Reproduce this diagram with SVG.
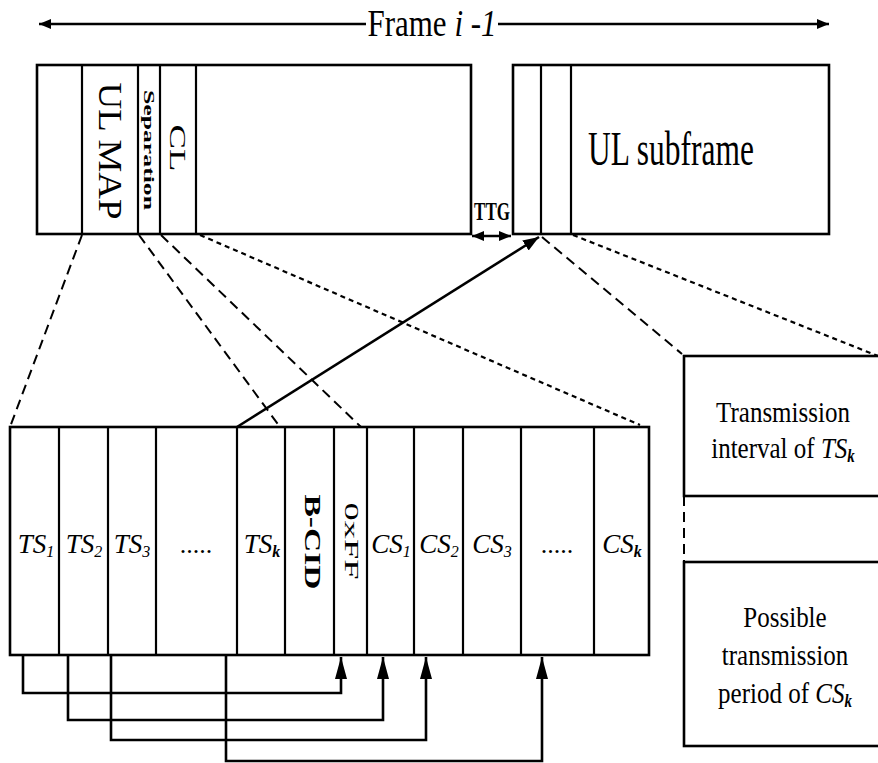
<svg xmlns="http://www.w3.org/2000/svg" width="878" height="763" viewBox="0 0 878 763">
<style>
.box{fill:#fff;stroke:#000;stroke-width:2.6}
.dv{stroke:#000;stroke-width:2.2}
.t{font-family:"Liberation Serif","Times New Roman",serif;fill:#000}
.it{font-style:italic}
.ln{fill:none;stroke:#000;stroke-width:2.6}
.dl{fill:none;stroke:#000;stroke-width:2;stroke-dasharray:10 6}
.ds{fill:none;stroke:#000;stroke-width:2.2;stroke-dasharray:5 4}
</style>
<defs>
<marker id="ah" markerUnits="userSpaceOnUse" markerWidth="24" markerHeight="14" refX="22" refY="6" orient="auto"><path d="M0,0 L22,6 L0,12 z" fill="#000"/></marker>
<marker id="am" markerUnits="userSpaceOnUse" markerWidth="18" markerHeight="14" refX="16" refY="6" orient="auto"><path d="M0,0 L16,6 L0,12 z" fill="#000"/></marker>
<marker id="as" markerUnits="userSpaceOnUse" markerWidth="14" markerHeight="12" refX="12" refY="5" orient="auto-start-reverse"><path d="M0,0 L12,5 L0,10 z" fill="#000"/></marker>
</defs>

<g id="frame-label">
<line class="ln" x1="366" y1="24" x2="39" y2="24" marker-end="url(#as)"/>
<line class="ln" x1="498" y1="24" x2="829" y2="24" marker-end="url(#as)"/>
<text class="t" transform="translate(432,36) scale(1,1.2)" text-anchor="middle" font-size="31">Frame <tspan class="it">i -1</tspan></text>
</g>

<g id="dl-subframe">
<rect class="box" x="37" y="65" width="434" height="169"/>
<line class="dv" x1="82" y1="65" x2="82" y2="234"/>
<line class="dv" x1="138" y1="65" x2="138" y2="234"/>
<line class="dv" x1="160" y1="65" x2="160" y2="234"/>
<line class="dv" x1="196" y1="65" x2="196" y2="234"/>
<text class="t" transform="translate(110,151) rotate(90)" x="0" y="11" text-anchor="middle" font-size="33" textLength="137" lengthAdjust="spacingAndGlyphs">UL MAP</text>
<text class="t" transform="translate(149,150) rotate(90)" x="0" y="5" text-anchor="middle" font-size="15" font-weight="bold" textLength="120" lengthAdjust="spacingAndGlyphs">Separation</text>
<text class="t" transform="translate(178,148) rotate(90)" x="0" y="8" text-anchor="middle" font-size="24" textLength="47" lengthAdjust="spacingAndGlyphs">CL</text>
</g>

<g id="ttg">
<text class="t" transform="translate(492,220) scale(1,1.5)" text-anchor="middle" font-size="17" font-weight="bold">TTG</text>
<line class="ln" x1="472" y1="236" x2="511" y2="236" marker-start="url(#as)" marker-end="url(#as)"/>
</g>

<g id="ul-subframe">
<rect class="box" x="513" y="65" width="316" height="169"/>
<line class="dv" x1="541" y1="65" x2="541" y2="234"/>
<line class="dv" x1="571" y1="65" x2="571" y2="234"/>
<text class="t" transform="translate(588,165) scale(1,1.55)" font-size="31.5">UL subframe</text>
</g>

<g id="slot-row">
<rect class="box" x="10" y="427" width="639" height="228"/>
<line class="dv" x1="59" y1="427" x2="59" y2="655"/>
<line class="dv" x1="108" y1="427" x2="108" y2="655"/>
<line class="dv" x1="156" y1="427" x2="156" y2="655"/>
<line class="dv" x1="237" y1="427" x2="237" y2="655"/>
<line class="dv" x1="285" y1="427" x2="285" y2="655"/>
<line class="dv" x1="334" y1="427" x2="334" y2="655"/>
<line class="dv" x1="367" y1="427" x2="367" y2="655"/>
<line class="dv" x1="414" y1="427" x2="414" y2="655"/>
<line class="dv" x1="463" y1="427" x2="463" y2="655"/>
<line class="dv" x1="521" y1="427" x2="521" y2="655"/>
<line class="dv" x1="594" y1="427" x2="594" y2="655"/>
<g class="t it" font-size="27" text-anchor="middle">
<text x="36" y="553">TS<tspan font-size="16" dy="4">1</tspan></text>
<text x="84" y="553">TS<tspan font-size="16" dy="4">2</tspan></text>
<text x="132" y="553">TS<tspan font-size="16" dy="4">3</tspan></text>
<text x="262" y="553">TS<tspan font-size="16" dy="4" font-weight="bold">k</tspan></text>
<text x="391" y="553">CS<tspan font-size="16" dy="4">1</tspan></text>
<text x="439" y="553">CS<tspan font-size="16" dy="4">2</tspan></text>
<text x="492" y="553">CS<tspan font-size="16" dy="4">3</tspan></text>
<text x="622" y="553">CS<tspan font-size="16" dy="4" font-weight="bold">k</tspan></text>
</g>
<text class="t" x="196" y="553" text-anchor="middle" font-size="26">.....</text>
<text class="t" x="557" y="553" text-anchor="middle" font-size="26">.....</text>
<text class="t" transform="translate(313,542) rotate(90)" x="0" y="8" text-anchor="middle" font-size="24" font-weight="bold" textLength="95" lengthAdjust="spacingAndGlyphs">B-CID</text>
<text class="t" transform="translate(351,541) rotate(90)" x="0" y="6" text-anchor="middle" font-size="18" textLength="77" lengthAdjust="spacingAndGlyphs">0xFF</text>
</g>

<g id="tx-interval">
<rect class="box" x="684" y="356" width="200" height="140"/>
<text class="t" transform="translate(783,422) scale(1,1.2)" text-anchor="middle" font-size="25">Transmission</text>
<text class="t" transform="translate(783,458) scale(1,1.2)" text-anchor="middle" font-size="25">interval of <tspan class="it">TS</tspan><tspan class="it" font-weight="bold" font-size="15" dy="3">k</tspan></text>
</g>

<g id="tx-period">
<rect class="box" x="684" y="562" width="200" height="184"/>
<text class="t" transform="translate(785,627) scale(1,1.2)" text-anchor="middle" font-size="25">Possible</text>
<text class="t" transform="translate(785,665) scale(1,1.2)" text-anchor="middle" font-size="25">transmission</text>
<text class="t" transform="translate(785,703) scale(1,1.2)" text-anchor="middle" font-size="25">period of <tspan class="it">CS</tspan><tspan class="it" font-weight="bold" font-size="15" dy="3">k</tspan></text>
</g>

<g id="connectors">
<line class="dl" x1="82" y1="235" x2="10" y2="427"/>
<line class="dl" x1="139" y1="235" x2="280" y2="427"/>
<line class="dl" x1="161" y1="235" x2="361" y2="427"/>
<line class="ds" x1="200" y1="235" x2="640" y2="425"/>
<line class="dl" x1="542" y1="237" x2="682" y2="354"/>
<line class="ds" x1="573" y1="235" x2="878" y2="356"/>
<line class="dl" x1="684" y1="496" x2="684" y2="562" stroke="#555"/>
<line class="ln" x1="237" y1="427" x2="539" y2="237" marker-end="url(#am)"/>
<polyline class="ln" points="23,655 23,693 341,693 341,657" marker-end="url(#ah)"/>
<polyline class="ln" points="68,655 68,720 383,720 383,657" marker-end="url(#ah)"/>
<polyline class="ln" points="111,655 111,740 426,740 426,657" marker-end="url(#ah)"/>
<polyline class="ln" points="226,655 226,761 542,761 542,657" marker-end="url(#ah)"/>
</g>
</svg>
